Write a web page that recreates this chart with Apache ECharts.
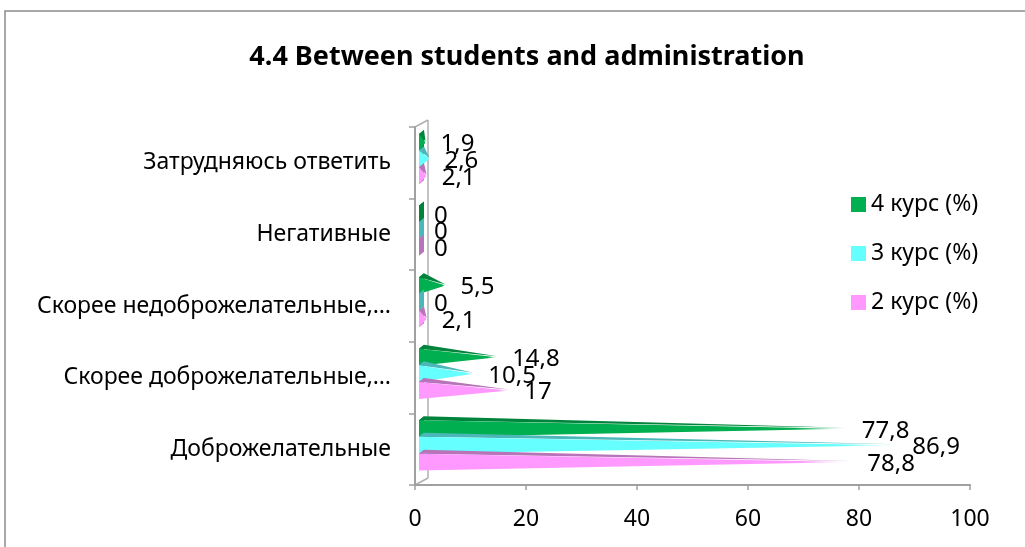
<!DOCTYPE html>
<html>
<head>
<meta charset="utf-8">
<script src="https://cdn.jsdelivr.net/npm/echarts@6/dist/echarts.min.js"></script>
<style>
  html, body { margin: 0; padding: 0; background: #fff; }
  #chart { width: 1025px; height: 547px; }
</style>
</head>
<body>
<div id="chart"></div>
<script>
// Survey answers, bottom category first
const categories = [
  'Доброжелательные',
  'Скорее доброжелательные,…',
  'Скорее недоброжелательные,…',
  'Негативные',
  'Затрудняюсь ответить'
];
const seriesNames = ['4 курс (%)', '3 курс (%)', '2 курс (%)'];
const course4 = [77.8, 14.8, 5.5, 0, 1.9];
const course3 = [86.9, 10.5, 0, 0, 2.6];
const course2 = [78.8, 17, 2.1, 0, 2.1];
const valueTicks = [0, 20, 40, 60, 80, 100];

const FONT = '"Noto Sans", "DejaVu Sans", sans-serif';
const palette = [
  { face: '#00B050', top: '#00843C' },
  { face: '#66FFFF', top: '#4AB8B8' },
  { face: '#FF99FF', top: '#B874B8' }
];
// vertical placement of each pyramid inside its category band
const slot = [-0.285, -0.055, 0.18];
const halfH = 0.118;
const W = 1025, H = 547;
const grid = { left: 415, right: 55, top: 127, bottom: 62 };

function fmt(v) { return String(v).replace('.', ','); }

function makeRender(idx) {
  return function (params, api) {
    const cat = api.value(1);
    const v = api.value(0);
    const base = api.coord([0, cat]);
    const tip = api.coord([v, cat]);
    const band = api.size([0, 1])[1];
    const yc = base[1] + band * slot[idx];
    const h = band * halfH;
    const x0 = base[0] + 4;
    const tx = Math.max(tip[0], x0);
    const dx = 5, dy = 4;
    const c = palette[idx];
    const children = [
      { type: 'polygon', shape: { points: [[x0, yc - h], [x0 + dx, yc - h - dy], [x0 + dx, yc + h - dy], [x0, yc + h]] },
        style: { fill: c.top } },
      { type: 'polygon', shape: { points: [[x0, yc - h], [x0 + dx, yc - h - dy], [tx, yc - 1]] },
        style: { fill: c.top } },
      { type: 'polygon', shape: { points: [[x0, yc - h], [x0, yc + h], [tx, yc]] },
        style: { fill: new echarts.graphic.LinearGradient(0, 0, 1, 0, [
          { offset: 0, color: c.face }, { offset: 0.88, color: c.face }, { offset: 1, color: '#ffffff' }
        ]) } },
      { type: 'text', style: { text: fmt(v), x: tx + 15, y: yc + 2, verticalAlign: 'middle',
        fill: '#000', font: '24px ' + FONT } }
    ];
    return { type: 'group', children: children };
  };
}

const seriesData = [course4, course3, course2];
const series = seriesData.map(function (arr, i) {
  return {
    name: seriesNames[i],
    type: 'custom',
    renderItem: makeRender(i),
    encode: { x: 0, y: 1 },
    itemStyle: { color: palette[i].face },
    data: arr.map(function (v, k) { return [v, k]; }),
    z: 3
  };
});

// outer frame and the depth edges of the plot wall, placed from the grid box
const gLeft = grid.left, gTop = grid.top, gBot = H - grid.bottom;
const d = 13, e = 7;
const edge = { stroke: '#B0B0B0', lineWidth: 1.5 };

const chart = echarts.init(document.getElementById('chart'));
chart.setOption({
  animation: false,
  backgroundColor: '#fff',
  title: {
    text: '4.4 Between students and administration',
    left: 522, top: 39, textAlign: 'center',
    textStyle: { fontFamily: FONT, fontSize: 27, fontWeight: 'bold', color: '#000' }
  },
  legend: {
    orient: 'vertical', left: 846, top: 188,
    icon: 'rect', itemWidth: 15, itemHeight: 15, itemGap: 26,
    textStyle: { fontFamily: FONT, fontSize: 23, color: '#000' },
    data: seriesNames
  },
  grid: grid,
  xAxis: {
    type: 'value', min: valueTicks[0], max: valueTicks[valueTicks.length - 1], interval: valueTicks[1] - valueTicks[0],
    axisLine: { show: true, lineStyle: { color: '#A0A0A0', width: 2 } },
    axisTick: { show: true, length: 5, lineStyle: { color: '#A0A0A0', width: 1.5 } },
    axisLabel: { fontFamily: FONT, fontSize: 23, color: '#000', margin: 23 },
    splitLine: { show: false }
  },
  yAxis: {
    type: 'category', data: categories,
    axisLine: { show: true, lineStyle: { color: '#A0A0A0', width: 2 } },
    axisTick: { show: true, length: 6, lineStyle: { color: '#A0A0A0', width: 1.5 } },
    axisLabel: { fontFamily: FONT, fontSize: 23, color: '#000', margin: 24 },
    splitLine: { show: false }
  },
  graphic: [
    { type: 'rect', z: 0, shape: { x: 5, y: 11, width: 1100, height: 600 },
      style: { fill: 'none', stroke: '#8C8C8C', lineWidth: 1.5 } },
    { type: 'line', z: 0, shape: { x1: gLeft + d, y1: gTop - e, x2: gLeft + d, y2: gBot - e }, style: edge },
    { type: 'line', z: 0, shape: { x1: gLeft, y1: gTop, x2: gLeft + d, y2: gTop - e }, style: edge },
    { type: 'line', z: 0, shape: { x1: gLeft, y1: gBot, x2: gLeft + d, y2: gBot - e }, style: edge }
  ],
  series: series
});
</script>
</body>
</html>
